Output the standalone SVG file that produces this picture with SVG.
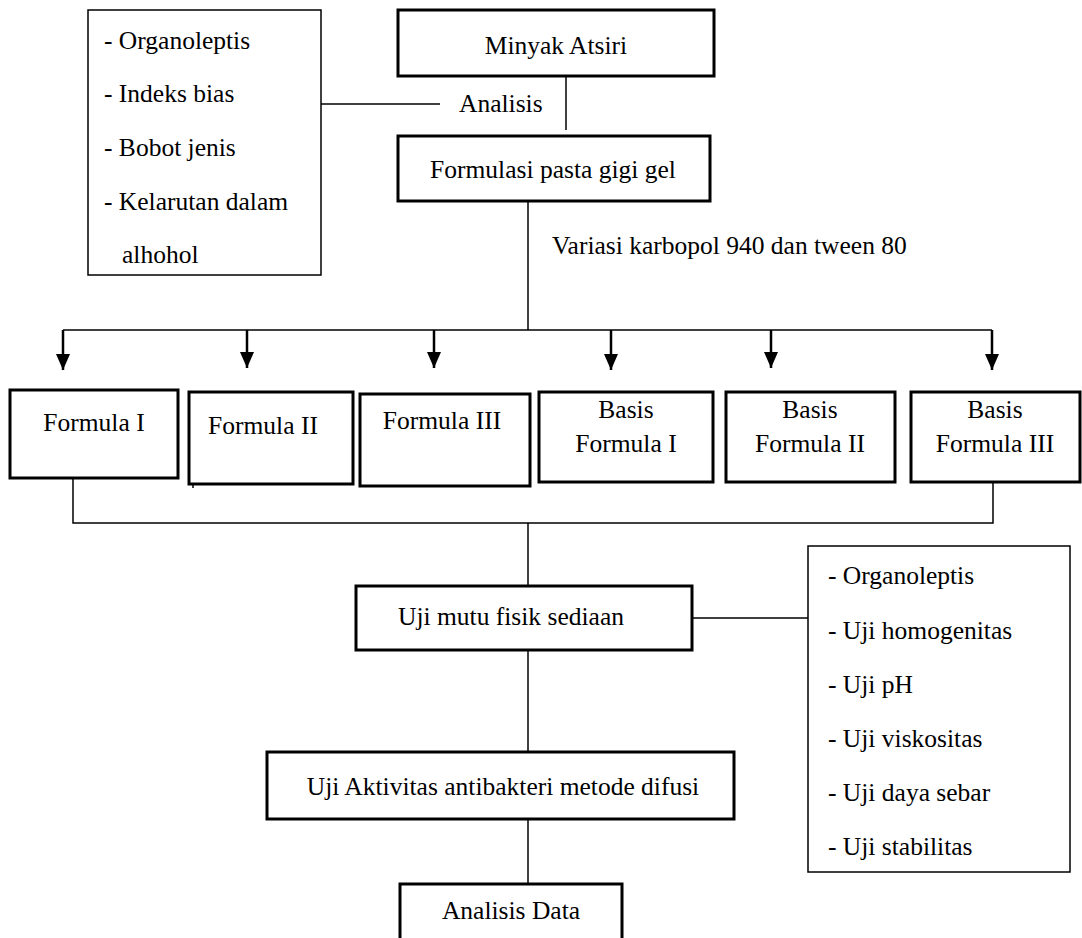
<svg xmlns="http://www.w3.org/2000/svg" width="1082" height="938" viewBox="0 0 1082 938" font-family="Liberation Serif, Times New Roman, serif" font-size="25">
<style>
text{font-family:'Liberation Serif','Times New Roman',serif;font-size:25.5px;fill:#000}
.c{text-anchor:middle}
.thick{fill:#fff;stroke:#000;stroke-width:3}
.thin{fill:#fff;stroke:#000;stroke-width:1.5}
.ln{stroke:#000;stroke-width:1.5;fill:none}
.ar{stroke:#000;stroke-width:2.5;fill:none}
</style>
<defs>
<marker id="arr" viewBox="0 0 16 16" refX="16" refY="8" markerWidth="16" markerHeight="16" markerUnits="userSpaceOnUse" orient="auto">
<path d="M0,1 L16,8 L0,15 z" fill="#000"/>
</marker>
</defs>
<rect width="1082" height="938" fill="#fff"/>
<g id="connectors">
<line class="ln" x1="321" y1="104" x2="440" y2="104"/>
<line class="ln" x1="566" y1="76" x2="566" y2="130"/>
<line class="ln" x1="528" y1="201" x2="528" y2="330"/>
<line class="ln" x1="63" y1="330" x2="992" y2="330"/>
<line class="ar" x1="63" y1="330" x2="63" y2="370" marker-end="url(#arr)"/>
<line class="ar" x1="247" y1="330" x2="247" y2="368" marker-end="url(#arr)"/>
<line class="ar" x1="434" y1="330" x2="434" y2="368" marker-end="url(#arr)"/>
<line class="ar" x1="611" y1="330" x2="611" y2="370" marker-end="url(#arr)"/>
<line class="ar" x1="771" y1="330" x2="771" y2="368" marker-end="url(#arr)"/>
<line class="ar" x1="992" y1="330" x2="992" y2="370" marker-end="url(#arr)"/>
<polyline class="ln" points="73,479 73,523 993,523 993,482"/>
<line class="ln" x1="193" y1="485" x2="193" y2="488"/>
<line class="ln" x1="528" y1="523" x2="528" y2="586"/>
<line class="ln" x1="692" y1="618" x2="808" y2="618"/>
<line class="ln" x1="528" y1="650" x2="528" y2="752"/>
<line class="ln" x1="528" y1="819" x2="528" y2="884"/>
</g>
<g id="analisis-list">
<rect class="thin" x="88" y="10" width="233" height="265"/>
<text x="104" y="49">- Organoleptis</text>
<text x="104" y="102">- Indeks bias</text>
<text x="104" y="156">- Bobot jenis</text>
<text x="104" y="210">- Kelarutan dalam</text>
<text x="122" y="263">alhohol</text>
</g>
<g id="analisis-label">
<text x="459" y="112">Analisis</text>
</g>
<g id="minyak-atsiri">
<rect class="thick" x="398" y="10" width="316" height="66"/>
<text class="c" x="556" y="54">Minyak Atsiri</text>
</g>
<g id="formulasi">
<rect class="thick" x="398" y="136" width="312" height="65"/>
<text class="c" x="553" y="178">Formulasi pasta gigi gel</text>
</g>
<g id="variasi-label">
<text x="552" y="254">Variasi karbopol 940 dan tween 80</text>
</g>
<g id="formula-1">
<rect class="thick" x="10" y="390" width="168" height="88"/>
<text class="c" x="94" y="431">Formula I</text>
</g>
<g id="formula-2">
<rect class="thick" x="189" y="392" width="164" height="92"/>
<text class="c" x="263" y="434">Formula II</text>
</g>
<g id="formula-3">
<rect class="thick" x="360" y="394" width="170" height="92"/>
<text class="c" x="442" y="429">Formula III</text>
</g>
<g id="basis-1">
<rect class="thick" x="539" y="392" width="174" height="90"/>
<text class="c" x="626" y="418">Basis</text>
<text class="c" x="626" y="452">Formula I</text>
</g>
<g id="basis-2">
<rect class="thick" x="726" y="392" width="169" height="90"/>
<text class="c" x="810" y="418">Basis</text>
<text class="c" x="810" y="452">Formula II</text>
</g>
<g id="basis-3">
<rect class="thick" x="911" y="392" width="169" height="90"/>
<text class="c" x="995" y="418">Basis</text>
<text class="c" x="995" y="452">Formula III</text>
</g>
<g id="uji-mutu">
<rect class="thick" x="356" y="586" width="336" height="64"/>
<text class="c" x="511" y="625">Uji mutu fisik sediaan</text>
</g>
<g id="uji-list">
<rect class="thin" x="808" y="546" width="262" height="326"/>
<text x="828" y="584">- Organoleptis</text>
<text x="828" y="639">- Uji homogenitas</text>
<text x="828" y="693">- Uji pH</text>
<text x="828" y="747">- Uji viskositas</text>
<text x="828" y="801">- Uji daya sebar</text>
<text x="828" y="855">- Uji stabilitas</text>
</g>
<g id="uji-aktivitas">
<rect class="thick" x="267" y="752" width="467" height="67"/>
<text class="c" x="503" y="795">Uji Aktivitas antibakteri metode difusi</text>
</g>
<g id="analisis-data">
<rect class="thick" x="400" y="884" width="222" height="70"/>
<text class="c" x="511" y="919">Analisis Data</text>
</g>
</svg>
